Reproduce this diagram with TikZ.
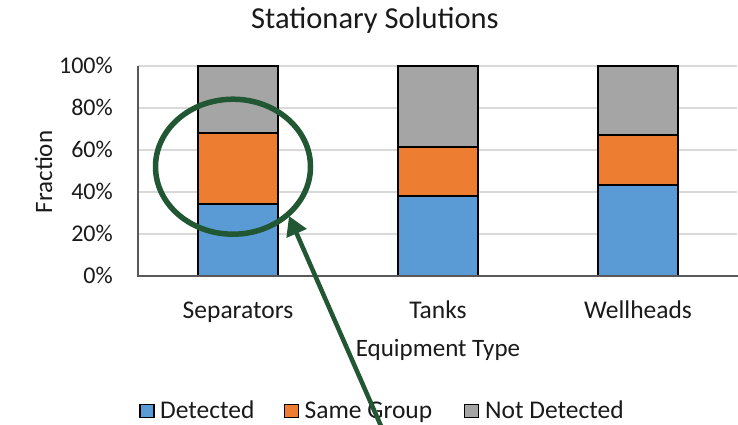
\documentclass[tikz,border=0pt]{standalone}
\usepackage{fontspec}
\setmainfont{Carlito}
\usetikzlibrary{arrows.meta,shapes.geometric}
\definecolor{cblue}{HTML}{5B9BD5}
\definecolor{corange}{HTML}{ED7D31}
\definecolor{cgray}{HTML}{A5A5A5}
\definecolor{cgrid}{HTML}{D9D9D9}
\definecolor{caxis}{HTML}{595959}
\definecolor{cgreen}{HTML}{215732}
\definecolor{ctext}{HTML}{1A1A1A}
\tikzset{
  gridline/.style={cgrid, line width=1.5pt},
  axisline/.style={caxis, line width=1.5pt},
  barbox/.style={draw=black, line width=2.4pt},
  ticklbl/.style={anchor=base east, text=ctext, inner sep=0pt, font=\fontsize{24}{28}\selectfont},
  catlbl/.style={anchor=base, text=ctext, inner sep=0pt, font=\fontsize{25.5}{30}\selectfont},
  axtitle/.style={anchor=base, text=ctext, inner sep=0pt, font=\fontsize{25}{30}\selectfont},
  leglbl/.style={anchor=base west, text=ctext, inner sep=0pt, font=\fontsize{25.5}{30}\selectfont},
  legsq/.style={draw=black, line width=1.4pt, minimum width=14pt, minimum height=13pt, inner sep=0pt},
  hilite/.style={draw=cgreen, line width=5.5pt, ellipse, inner sep=0pt},
  pointer/.style={cgreen, line width=4.5pt, -{Triangle[length=19pt,width=21pt]}}
}
\begin{document}
\begin{tikzpicture}[x=1pt,y=-1pt]
\useasboundingbox (0,0) rectangle (738,424);
\fill[white] (0,0) rectangle (738,424);
% grid
\foreach \v in {1,...,5} \draw[gridline] (138,276-42*\v) -- (737,276-42*\v);
% bars
\foreach \xl/\b/\o in {198/204/133, 398/196/147, 598/185/135} {
  \filldraw[fill=cgray, barbox] (\xl,66) rectangle (\xl+80,\o);
  \filldraw[fill=corange, barbox] (\xl,\o) rectangle (\xl+80,\b);
  \filldraw[fill=cblue, barbox] (\xl,\b) rectangle (\xl+80,276);
}
% axes
\draw[axisline] (138,66) -- (138,276);
\draw[axisline] (137.25,276) -- (738,276);
% tick labels
\node[ticklbl] (t0) at (113,283.5) {0\%};
\node[ticklbl] (t20) at (113,241.5) {20\%};
\node[ticklbl] (t40) at (113,199.5) {40\%};
\node[ticklbl] (t60) at (113,157.5) {60\%};
\node[ticklbl] (t80) at (113,115.5) {80\%};
\node[ticklbl] (t100) at (113,73.5) {100\%};
% title
\node[anchor=base, text=ctext, inner sep=0pt, font=\fontsize{30.5}{34}\selectfont] (title) at (375,28) {Stationary Solutions};
% categories
\node[catlbl] (c1) at (238,318) {Separators};
\node[catlbl] (c2) at (438,318) {Tanks};
\node[catlbl] (c3) at (638,318) {Wellheads};
% axis titles
\node[axtitle] (xt) at (438,356) {Equipment Type};
\node[axtitle, rotate=90] (yt) at (52,172) {Fraction};
% legend
\node[legsq, fill=cblue] (lq1) at (147,411) {};
\node[leglbl] (l1) at (160,418) {Detected};
\node[legsq, fill=corange] (lq2) at (291.5,411) {};
\node[leglbl] (l2) at (304.5,418) {Same Group};
\node[legsq, fill=cgray] (lq3) at (471.5,411) {};
\node[leglbl] (l3) at (485,418) {Not Detected};
% highlight ellipse and arrow
\node[hilite, minimum width=155pt, minimum height=135pt] (hl) at (233,166.7) {};
\coordinate (astart) at (381,426);
\coordinate (atip) at (289,216);
\draw[pointer] (astart) -- (atip);
\end{tikzpicture}
\end{document}
